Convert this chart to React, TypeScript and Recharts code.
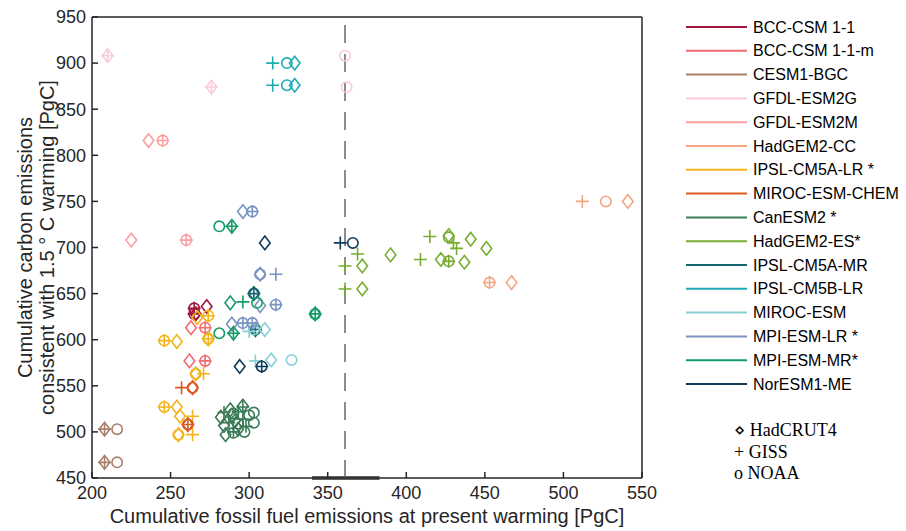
import React from 'react';
import { ScatterChart, Scatter, XAxis, YAxis, ReferenceLine, Label } from 'recharts';

// [x, y, kind] - kind: D = HadCRUT4 (diamond), P = GISS (plus), O = NOAA (circle)
type Pt = [number, number, 'D' | 'P' | 'O'];

const bccCsm11: Pt[] = [
  [273, 636, 'D'], [265, 634, 'P'], [265, 634, 'O'],
  [266, 628, 'D'], [265, 628, 'P'], [265, 628, 'O'],
];
const bccCsm11m: Pt[] = [
  [263, 613, 'D'], [272, 613, 'P'], [272, 613, 'O'],
  [262, 577, 'D'], [272, 577, 'P'], [272, 577, 'O'],
];
const cesm1Bgc: Pt[] = [
  [208, 503, 'D'], [208, 503, 'P'], [216, 503, 'O'],
  [208, 467, 'D'], [208, 467, 'P'], [216, 467, 'O'],
];
const gfdlEsm2g: Pt[] = [
  [210, 908, 'D'], [210, 908, 'P'], [361, 908, 'O'],
  [276, 874, 'D'], [276, 874, 'P'], [362, 874, 'O'],
];
const gfdlEsm2m: Pt[] = [
  [236, 816, 'D'], [245, 816, 'P'], [245, 816, 'O'],
  [225, 708, 'D'], [260, 708, 'P'], [260, 708, 'O'],
];
const hadgem2Cc: Pt[] = [
  [512, 750, 'P'], [527, 750, 'O'], [541, 750, 'D'],
  [453, 662, 'P'], [453, 662, 'O'], [467, 662, 'D'],
];
const ipslCm5aLr: Pt[] = [
  [267, 624, 'D'], [274, 626, 'P'], [274, 626, 'O'],
  [274, 601, 'D'], [274, 601, 'P'], [274, 601, 'O'],
  [254, 598, 'D'], [246, 599, 'P'], [246, 599, 'O'],
  [266, 563, 'D'], [271, 563, 'P'], [266, 563, 'O'],
  [254, 527, 'D'], [246, 527, 'P'], [246, 527, 'O'],
  [256, 517, 'D'], [264, 517, 'P'],
  [255, 497, 'D'], [264, 497, 'P'], [255, 497, 'O'],
];
const mirocEsmChem: Pt[] = [
  [257, 548, 'P'], [264, 548, 'D'], [264, 548, 'O'],
  [261, 508, 'D'], [261, 508, 'P'], [261, 508, 'O'],
];
const canEsm2: Pt[] = [
  [282, 516, 'D'], [284, 507, 'D'], [285, 497, 'D'], [288, 524, 'D'],
  [291, 512, 'D'], [293, 503, 'D'], [296, 528, 'D'], [289, 518, 'D'],
  [284, 521, 'P'], [287, 510, 'P'], [290, 500, 'P'], [293, 522, 'P'],
  [296, 514, 'P'], [298, 506, 'P'], [296, 527, 'P'],
  [290, 520, 'O'], [293, 509, 'O'], [297, 500, 'O'], [300, 518, 'O'],
  [303, 521, 'O'], [303, 510, 'O'], [290, 499, 'O'],
];
const hadgem2Es: Pt[] = [
  [415, 712, 'P'], [427, 713, 'D'], [427, 711, 'O'],
  [430, 705, 'P'], [441, 709, 'D'],
  [432, 699, 'P'], [451, 699, 'D'],
  [409, 687, 'P'], [422, 687, 'D'],
  [427, 685, 'P'], [427, 685, 'O'], [437, 684, 'D'],
  [369, 693, 'P'], [390, 692, 'D'],
  [361, 680, 'P'], [372, 680, 'D'],
  [361, 655, 'P'], [372, 655, 'D'],
];
const ipslCm5aMr: Pt[] = [
  [303, 650, 'D'], [303, 650, 'P'], [303, 650, 'O'],
  [304, 611, 'D'], [304, 611, 'P'], [304, 611, 'O'],
];
const ipslCm5bLr: Pt[] = [
  [315, 900, 'P'], [324, 900, 'O'], [329, 900, 'D'],
  [315, 876, 'P'], [324, 876, 'O'], [329, 876, 'D'],
];
const mirocEsm: Pt[] = [
  [304, 577, 'P'], [314, 578, 'D'], [327, 578, 'O'],
  [300, 609, 'P'], [310, 611, 'D'], [303, 611, 'O'],
];
const mpiEsmLr: Pt[] = [
  [296, 739, 'D'], [302, 739, 'P'], [302, 739, 'O'],
  [307, 671, 'D'], [317, 671, 'P'], [307, 671, 'O'],
  [307, 637, 'D'], [317, 638, 'P'], [317, 638, 'O'],
  [289, 617, 'D'], [296, 618, 'P'], [296, 618, 'O'], [302, 618, 'P'], [302, 618, 'O'],
];
const mpiEsmMr: Pt[] = [
  [281, 723, 'O'], [289, 723, 'D'], [289, 723, 'P'],
  [342, 628, 'D'], [342, 628, 'P'], [342, 628, 'O'],
  [288, 640, 'D'], [296, 641, 'P'], [305, 640, 'O'],
  [281, 607, 'O'], [290, 607, 'D'], [290, 607, 'P'],
];
const norEsm1Me: Pt[] = [
  [310, 705, 'D'], [358, 705, 'P'], [366, 705, 'O'],
  [294, 571, 'D'], [308, 571, 'P'], [308, 571, 'O'],
];

const MODELS = [
  { name: 'BCC-CSM 1-1', color: '#a2163c', points: bccCsm11 },
  { name: 'BCC-CSM 1-1-m', color: '#f46a6f', points: bccCsm11m },
  { name: 'CESM1-BGC', color: '#a98069', points: cesm1Bgc },
  { name: 'GFDL-ESM2G', color: '#fbc9e0', points: gfdlEsm2g },
  { name: 'GFDL-ESM2M', color: '#f99f9e', points: gfdlEsm2m },
  { name: 'HadGEM2-CC', color: '#f4a683', points: hadgem2Cc },
  { name: 'IPSL-CM5A-LR *', color: '#f4b41b', points: ipslCm5aLr },
  { name: 'MIROC-ESM-CHEM', color: '#db5a1f', points: mirocEsmChem },
  { name: 'CanESM2 *', color: '#3b7b57', points: canEsm2 },
  { name: 'HadGEM2-ES*', color: '#78ad32', points: hadgem2Es },
  { name: 'IPSL-CM5A-MR', color: '#13666f', points: ipslCm5aMr },
  { name: 'IPSL-CM5B-LR', color: '#1eabb4', points: ipslCm5bLr },
  { name: 'MIROC-ESM', color: '#86d0d6', points: mirocEsm },
  { name: 'MPI-ESM-LR *', color: '#7a94c2', points: mpiEsmLr },
  { name: 'MPI-ESM-MR*', color: '#149c68', points: mpiEsmMr },
  { name: 'NorESM1-ME', color: '#0f3a5a', points: norEsm1Me },
];

const OBS_LABELS = ['\u22c4 HadCRUT4', '+ GISS', 'o NOAA'];

const X_TICKS = [200, 250, 300, 350, 400, 450, 500, 550];
const Y_TICKS = [450, 500, 550, 600, 650, 700, 750, 800, 850, 900, 950];
const PRESENT_WARMING = 361;
const PRESENT_RANGE = [340, 383];

const FONT = '"Liberation Sans", Arial, Helvetica, sans-serif';
const AXIS_COLOR = '#262626';

function Marker(props: any) {
  const { cx, cy, payload, color } = props;
  if (cx == null || cy == null) return null;
  const sw = 1.6;
  if (payload.k === 'D') {
    return (
      <path
        d={`M${cx},${cy - 6.8} L${cx + 5.3},${cy} L${cx},${cy + 6.8} L${cx - 5.3},${cy} Z`}
        fill="none"
        stroke={color}
        strokeWidth={sw}
      />
    );
  }
  if (payload.k === 'P') {
    return (
      <path
        d={`M${cx - 6.5},${cy} H${cx + 6.5} M${cx},${cy - 6.5} V${cy + 6.5}`}
        fill="none"
        stroke={color}
        strokeWidth={sw}
      />
    );
  }
  return <circle cx={cx} cy={cy} r={5.2} fill="none" stroke={color} strokeWidth={sw} />;
}

function YAxisTitle(props: any) {
  const { viewBox } = props;
  const cy = viewBox.y + viewBox.height / 2;
  const lines = ['Cumulative carbon emissions', 'consistent with 1.5 \u00b0 C warming [PgC]'];
  return (
    <g>
      {lines.map((t, i) => {
        const x = 25 + i * 22;
        return (
          <text
            key={t}
            x={x}
            y={cy}
            transform={`rotate(-90, ${x}, ${cy})`}
            textAnchor="middle"
            dominantBaseline="central"
            fontSize={20}
            fontFamily={FONT}
            fill={AXIS_COLOR}
          >
            {t}
          </text>
        );
      })}
    </g>
  );
}

function ModelLegend() {
  return (
    <svg width={906} height={531} style={{ position: 'absolute', left: 0, top: 0, pointerEvents: 'none' }}>
      {MODELS.map((m, i) => {
        const y = 27 + i * 23.8;
        return (
          <g key={m.name}>
            <line x1={686} x2={747} y1={y} y2={y} stroke={m.color} strokeWidth={2} />
            <text x={753} y={y} dominantBaseline="central" fontSize={16} fontFamily={FONT} fill="#000">
              {m.name}
            </text>
          </g>
        );
      })}
      {OBS_LABELS.map((t, i) => (
        <text
          key={t}
          x={734}
          y={430 + i * 21.5}
          dominantBaseline="central"
          fontSize={18}
          fontFamily='"Liberation Serif", "DejaVu Serif", serif'
          fill="#000"
        >
          {t}
        </text>
      ))}
    </svg>
  );
}

export default function App() {
  return (
    <div style={{ position: 'absolute', left: 0, top: 0, width: 906, height: 531, background: '#fff' }}>
      <ScatterChart width={906} height={531} margin={{ top: 12, right: 254, bottom: 23, left: 32 }}>
        <XAxis
          dataKey="x"
          type="number"
          domain={[200, 550]}
          ticks={X_TICKS}
          allowDataOverflow
          height={30}
          tickSize={-6}
          tickMargin={14}
          stroke={AXIS_COLOR}
          strokeWidth={1.5}
          tick={{ fontSize: 18, fontFamily: FONT, fill: AXIS_COLOR }}
        >
          <Label
            value="Cumulative fossil fuel emissions at present warming [PgC]"
            position="bottom"
            offset={1}
            style={{ fontSize: 20, fontFamily: FONT, fill: AXIS_COLOR }}
          />
        </XAxis>
        <XAxis
          xAxisId="top"
          orientation="top"
          type="number"
          domain={[200, 550]}
          ticks={X_TICKS}
          allowDataOverflow
          height={5}
          tickSize={-6}
          tick={false}
          stroke={AXIS_COLOR}
          strokeWidth={1.5}
        />
        <YAxis
          dataKey="y"
          type="number"
          domain={[450, 950]}
          ticks={Y_TICKS}
          allowDataOverflow
          width={60}
          tickSize={-6}
          tickMargin={12}
          stroke={AXIS_COLOR}
          strokeWidth={1.5}
          tick={{ fontSize: 18, fontFamily: FONT, fill: AXIS_COLOR }}
        >
          <Label content={YAxisTitle} />
        </YAxis>
        <YAxis
          yAxisId="right"
          orientation="right"
          type="number"
          domain={[450, 950]}
          ticks={Y_TICKS}
          allowDataOverflow
          width={10}
          tickSize={-6}
          tick={false}
          stroke={AXIS_COLOR}
          strokeWidth={1.5}
        />
        <ReferenceLine x={PRESENT_WARMING} stroke="#8c8c8c" strokeWidth={2} strokeDasharray="18 11" />
        {MODELS.map((m) => (
          <Scatter
            key={m.name}
            name={m.name}
            data={m.points.map(([x, y, k]) => ({ x, y, k }))}
            isAnimationActive={false}
            legendType="none"
            shape={(p: any) => <Marker {...p} color={m.color} />}
          />
        ))}
        <ReferenceLine
          segment={[
            { x: PRESENT_RANGE[0], y: 450 },
            { x: PRESENT_RANGE[1], y: 450 },
          ]}
          stroke="#606060"
          strokeWidth={4}
        />
      </ScatterChart>
      <ModelLegend />
    </div>
  );
}
